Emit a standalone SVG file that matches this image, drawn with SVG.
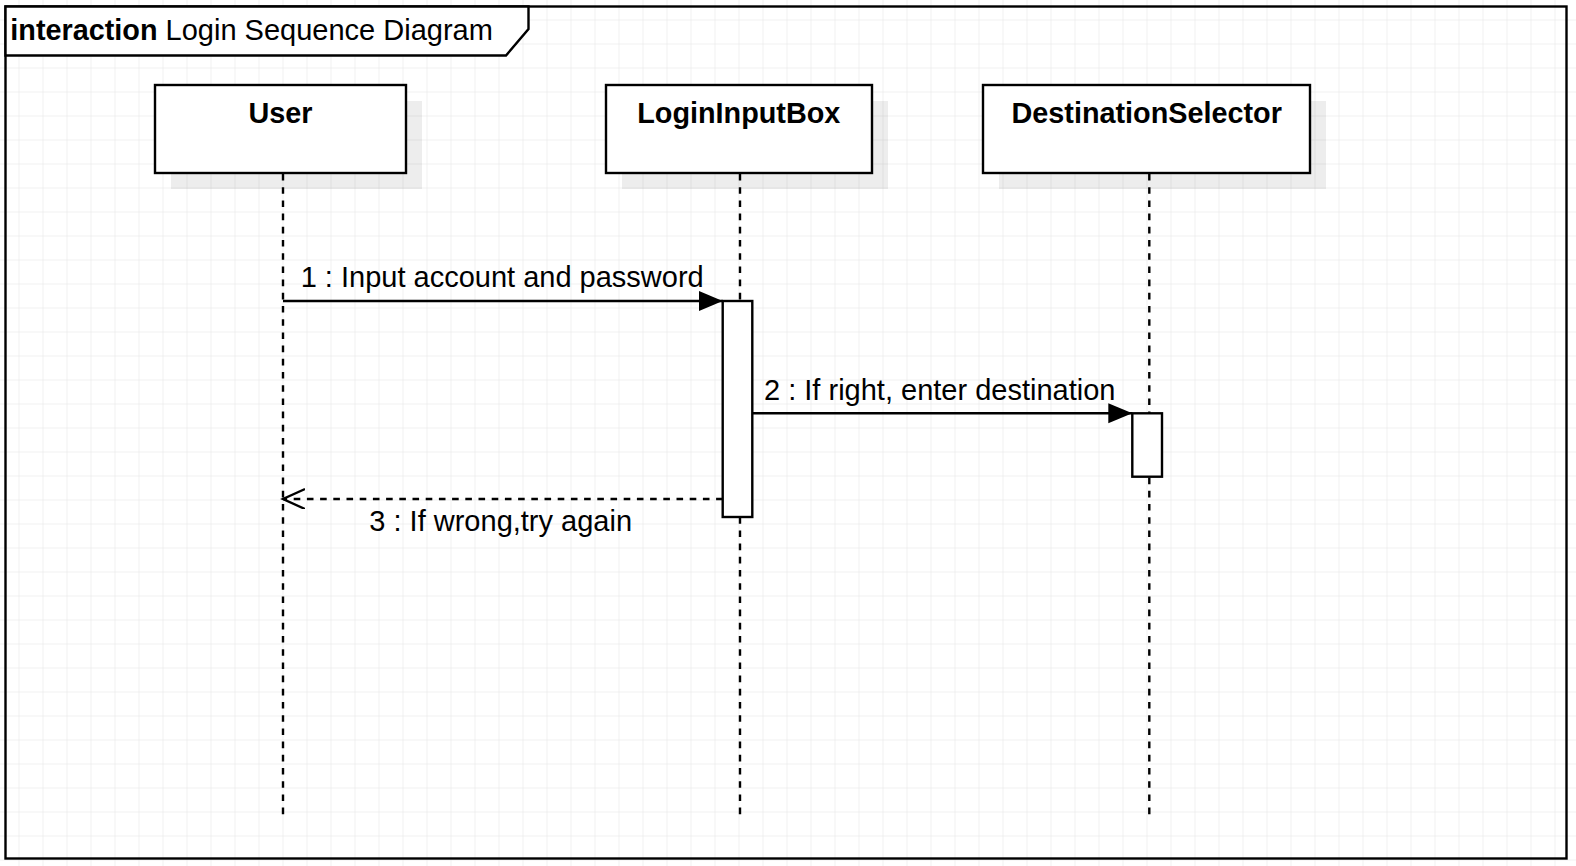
<svg xmlns="http://www.w3.org/2000/svg" width="1576" height="866" viewBox="0 0 1576 866">
<style>
text{font-family:"Liberation Sans",Arial,Helvetica,sans-serif;font-size:29px;fill:#000}
.b{font-weight:bold;font-size:28.8px}
.box{fill:#fff;stroke:#000;stroke-width:2.4}
.shadow{fill:#000;fill-opacity:0.07}
.life{fill:none;stroke:#000;stroke-width:2.4;stroke-dasharray:6.6 6.6}
.act{fill:#fff;stroke:#000;stroke-width:2.4}
.msg{fill:none;stroke:#000;stroke-width:2.4}
.ret{fill:none;stroke:#000;stroke-width:2.4;stroke-dasharray:6.6 6.6}
</style>
<defs>
<pattern id="grid" patternUnits="userSpaceOnUse" x="18.5" y="19.5" width="24" height="24">
<path d="M0 0H24M0 0V24" fill="none" stroke="#e4e4e4" stroke-width="1"/>
</pattern>
<marker id="block" markerUnits="userSpaceOnUse" markerWidth="26" markerHeight="22" refX="24" refY="10" orient="auto">
<path d="M0 0L24 10L0 20Z" fill="#000"/>
</marker>
<marker id="open" markerUnits="userSpaceOnUse" markerWidth="26" markerHeight="22" refX="22" refY="10" orient="auto">
<path d="M0 0L22 10L0 20" fill="none" stroke="#000" stroke-width="2.4"/>
</marker>
</defs>
<rect width="1576" height="866" fill="#fff"/>
<rect width="1576" height="866" fill="url(#grid)"/>

<g id="frame">
<rect x="5.5" y="6.5" width="1561" height="852" fill="none" stroke="#000" stroke-width="2.4"/>
<path d="M5.5 6.5H528.5V29L506 55.5H5.5Z" fill="#fff" stroke="#000" stroke-width="2.4"/>
<text x="10.3" y="39.5"><tspan class="b">interaction</tspan> Login Sequence Diagram</text>
</g>

<g id="user">
<rect class="shadow" x="171" y="101" width="251" height="88"/>
<rect class="box" x="155" y="85" width="251" height="88"/>
<text class="b" x="280.5" y="123.3" text-anchor="middle">User</text>
<line class="life" x1="283" y1="174" x2="283" y2="816"/>
</g>

<g id="loginInputBox">
<rect class="shadow" x="622" y="101" width="266" height="88"/>
<rect class="box" x="606" y="85" width="266" height="88"/>
<text class="b" x="738.8" y="123.3" text-anchor="middle">LoginInputBox</text>
<line class="life" x1="740" y1="174" x2="740" y2="816"/>
<rect class="act" x="722.7" y="301" width="29.6" height="216"/>
</g>

<g id="destinationSelector">
<rect class="shadow" x="999" y="101" width="327" height="88"/>
<rect class="box" x="983" y="85" width="327" height="88"/>
<text class="b" x="1146.7" y="123.3" text-anchor="middle">DestinationSelector</text>
<line class="life" x1="1149.3" y1="174" x2="1149.3" y2="816"/>
<rect class="act" x="1132.3" y="413.3" width="29.7" height="63.4"/>
</g>

<g id="connectors">
<line class="msg" x1="283" y1="301" x2="722.7" y2="301" marker-end="url(#block)"/>
<text x="300.7" y="287.3">1 : Input account and password</text>
<line class="msg" x1="752.3" y1="413.3" x2="1132.3" y2="413.3" marker-end="url(#block)"/>
<text x="764" y="400">2 : If right, enter destination</text>
<line class="ret" x1="722.7" y1="499" x2="283" y2="499" marker-end="url(#open)"/>
<text x="369.3" y="530.5">3 : If wrong,try again</text>
</g>
</svg>
